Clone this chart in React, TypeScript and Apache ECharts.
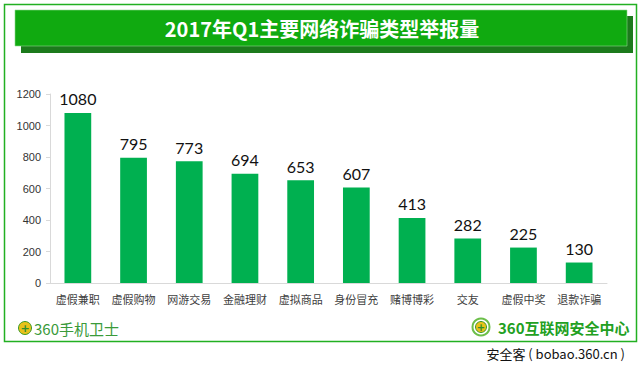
import React, { useEffect, useRef } from "react";
import * as echarts from "echarts";

const categories = ["虚假兼职", "虚假购物", "网游交易", "金融理财", "虚拟商品", "身份冒充", "赌博博彩", "交友", "虚假中奖", "退款诈骗"];
const reports = [1080, 795, 773, 694, 653, 607, 413, 282, 225, 130];
const yTicks = { min: 0, max: 1200, interval: 200 };
const titleText = "2017年Q1主要网络诈骗类型举报量";
const leftLogo = "360手机卫士";
const rightLogo = "360互联网安全中心";
const watermark = "安全客 ( bobao.360.cn )";

export default function App() {
  const ref = useRef<HTMLDivElement>(null);
  useEffect(() => {
    const chart = echarts.init(ref.current!, null, { renderer: "svg" });
    const cjk = "'Noto Sans CJK SC', sans-serif";
    chart.setOption({
      animation: false,
      backgroundColor: "#ffffff",
      grid: { left: 50, right: 33, top: 94, bottom: 86 },
      xAxis: {
        type: "category",
        data: categories,
        axisLine: { lineStyle: { color: "#d9d9d9", width: 1 } },
        axisTick: { show: false },
        axisLabel: { color: "#404040", fontSize: 11, fontFamily: cjk, margin: 10, interval: 0 },
      },
      yAxis: {
        type: "value",
        min: yTicks.min,
        max: yTicks.max,
        interval: yTicks.interval,
        splitLine: { show: false },
        axisLine: { show: true, lineStyle: { color: "#d9d9d9", width: 1 } },
        axisTick: { show: true, length: 4, lineStyle: { color: "#d9d9d9" } },
        axisLabel: {
          color: "#333333",
          fontSize: 11,
          fontFamily: "'Liberation Sans', sans-serif",
          margin: 9,
          formatter: (v: number) => String(v),
        },
      },
      series: [
        {
          type: "bar",
          data: reports,
          barWidth: "48%",
          itemStyle: { color: "#00b050" },
          label: {
            show: true,
            position: "top",
            distance: 6,
            color: "#111111",
            fontSize: 16,
            fontFamily: "Lato, sans-serif",
          },
        },
      ],
      graphic: [
        { type: "rect", shape: { x: 4.5, y: 4.5, width: 632, height: 337 }, style: { fill: "none", stroke: "#22b022", lineWidth: 1.5 }, silent: true },
        { type: "rect", shape: { x: 21, y: 16, width: 612, height: 37 }, style: { fill: "#1c7a1c" }, silent: true },
        { type: "rect", shape: { x: 15, y: 10, width: 612, height: 36 }, style: { fill: "#10aa10", stroke: "#8fd88f", lineWidth: 0.6 }, silent: true },
        {
          type: "text",
          x: 322,
          y: 28,
          style: { text: titleText, fill: "#ffffff", fontSize: 20, fontWeight: "bold", fontFamily: cjk, align: "center", verticalAlign: "middle" },
          silent: true,
        },
        // left logo
        { type: "circle", shape: { cx: 25, cy: 328, r: 6.5 }, style: { fill: "#e8c21a", stroke: "#3a9a2a", lineWidth: 1 }, silent: true },
        { type: "text", x: 25, y: 328, style: { text: "+", fill: "#2f8f2f", fontSize: 11, fontWeight: "bold", align: "center", verticalAlign: "middle", fontFamily: "'DejaVu Sans', sans-serif" }, silent: true },
        { type: "text", x: 34, y: 328, style: { text: leftLogo, fill: "#3a9a3a", fontSize: 15, fontWeight: "normal", fontFamily: cjk, verticalAlign: "middle" }, silent: true },
        // right logo
        { type: "circle", shape: { cx: 481, cy: 327, r: 8.5 }, style: { fill: "#ffffff", stroke: "#6cbf4a", lineWidth: 2 }, silent: true },
        { type: "circle", shape: { cx: 481, cy: 327, r: 5.5 }, style: { fill: "#e8c21a", stroke: "#3a9a2a", lineWidth: 1 }, silent: true },
        { type: "text", x: 481, y: 327, style: { text: "+", fill: "#2f8f2f", fontSize: 10, fontWeight: "bold", align: "center", verticalAlign: "middle", fontFamily: "'DejaVu Sans', sans-serif" }, silent: true },
        { type: "text", x: 498, y: 327, style: { text: rightLogo, fill: "#22a022", fontSize: 15, fontWeight: "bold", fontFamily: cjk, verticalAlign: "middle" }, silent: true },
        // watermark
        { type: "text", x: 625, y: 353, style: { text: watermark, fill: "#111111", fontSize: 13, fontFamily: cjk, align: "right", verticalAlign: "middle" }, silent: true },
      ],
    });
    return () => chart.dispose();
  }, []);
  return <div ref={ref} style={{ width: 640, height: 369, position: "absolute", left: 0, top: 0 }} />;
}
